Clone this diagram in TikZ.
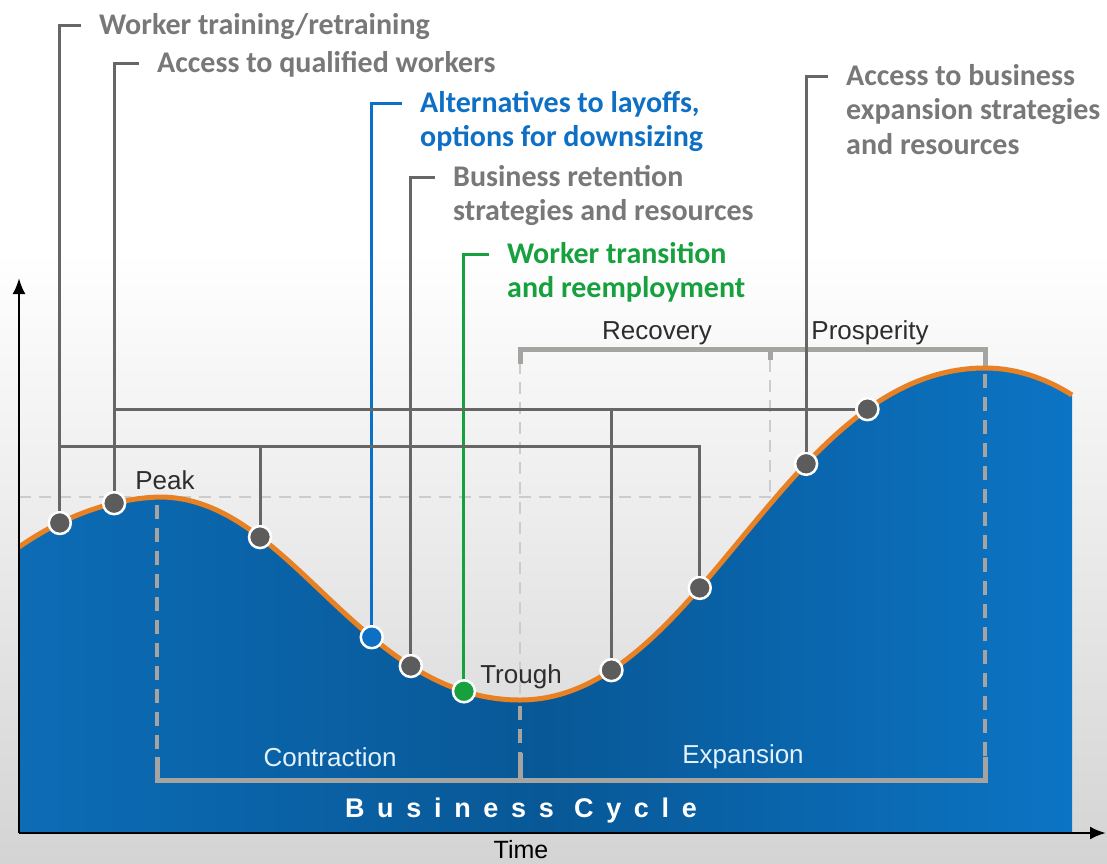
\documentclass[tikz,border=0pt]{standalone}
\usepackage{fontspec}
\setmainfont{Carlito}
\newfontfamily\chartfont{Liberation Sans}
\definecolor{conngray}{RGB}{102,102,102}
\definecolor{lblgray}{RGB}{120,120,120}
\definecolor{altblue}{RGB}{14,112,196}
\definecolor{trgreen}{RGB}{22,160,62}
\definecolor{dotgray}{RGB}{92,92,92}
\definecolor{brkgray}{RGB}{166,164,160}
\definecolor{guidelight}{RGB}{204,204,204}
\definecolor{cycleorange}{RGB}{232,128,36}
\definecolor{cycblueL}{RGB}{12,108,182}
\definecolor{cycblueM}{RGB}{8,88,150}
\definecolor{cycblueR}{RGB}{12,116,196}
\definecolor{bggray}{RGB}{212,212,212}
\definecolor{phasegray}{RGB}{45,45,45}
\definecolor{phasewhite}{RGB}{228,242,252}
\usetikzlibrary{
  arrows.meta,
  positioning,
}
\tikzset{
  conn/.style={draw=conngray, line width=3pt},
  lbl/.style={anchor=north west, inner sep=0pt, align=left, text=lblgray,
    font=\fontsize{30}{34.5}\selectfont\bfseries},
  dot/.style={circle, fill=dotgray, draw=white, line width=2.5pt, minimum size=22pt, inner sep=0pt},
  phase/.style={inner sep=0pt, text=phasegray, font=\chartfont\fontsize{26}{30}\selectfont},
  bracket/.style={draw=brkgray, line width=5pt},
  guide/.style={draw=brkgray, line width=3.5pt, dash pattern=on 14pt off 9pt},
  guidelt/.style={draw=guidelight, line width=2.5pt, dash pattern=on 12pt off 8pt},
  curve/.style={draw=cycleorange, line width=5pt},
  axis/.style={draw=black, line width=2.5pt, -{Latex[length=16pt,width=13pt]}},
}
\begin{document}
\begin{tikzpicture}[x=1pt, y=-1pt]
  \useasboundingbox (0,0) rectangle (1107,863);
  \fill[white] (0,0) rectangle (1107,863);
  \shade[top color=white, bottom color=bggray] (0,250) rectangle (1107,863);

  % turning points of the cycle
  \coordinate (start) at (19,547);
  \coordinate (pk) at (160,497);
  \coordinate (tr) at (520,700);
  \coordinate (mx) at (985,368);
  \coordinate (stop) at (1072,395);

  \draw[guidelt] (19,497) -- (776,497);

  \shade[left color=cycblueL, right color=cycblueR, middle color=cycblueM]
    (start) .. controls (65,515) and (115,498) .. (pk)
    .. controls (290,497) and (360,700) .. (tr)
    .. controls (700,700) and (785,368) .. (mx)
    .. controls (1020,368) and (1050,381) .. (stop)
    -- (1072,833) -- (19,833) -- cycle;

  % phase guides and brackets
  \draw[guide] (157,505) -- (157,757);
  \draw[guidelt] (520,362) -- (520,696);
  \draw[guide] (520,706) -- (520,757);
  \draw[guidelt] (770,360) -- (770,497);
  \draw[guide] (985,374) -- (985,757);
  \draw[bracket] (520,364) -- (520,349) -- (985,349) -- (985,370);
  \draw[bracket] (770,349) -- (770,360);
  \draw[bracket] (157,757) -- (157,780) -- (985,780) -- (985,757);
  \draw[bracket] (520,780) -- (520,753);

  \draw[curve] (start) .. controls (65,515) and (115,498) .. (pk)
      coordinate[pos=0.29] (k1) coordinate[pos=0.67] (k2)
    .. controls (290,497) and (360,700) .. (tr)
      coordinate[pos=0.285] (k3) coordinate[pos=0.63] (k4)
      coordinate[pos=0.74] (k5) coordinate[pos=0.875] (k6)
    .. controls (700,700) and (785,368) .. (mx)
      coordinate[pos=0.185] (k7) coordinate[pos=0.39] (k8)
      coordinate[pos=0.645] (k9) coordinate[pos=0.78] (k10)
    .. controls (1020,368) and (1050,381) .. (stop);

  \node[phase] (peak) at (165,480) {Peak};
  \node[phase] (trough) at (521,677) {Trough};
  \node[phase] (recov) at (657,333) {Recovery};
  \node[phase] (prosp) at (870,333) {Prosperity};
  \node[phase, text=phasewhite] (contr) at (330,757) {Contraction};
  \node[phase, text=phasewhite] (expan) at (743,757) {Expansion};
  \node[inner sep=0pt, text=white, font=\chartfont\fontsize{27}{30}\selectfont\bfseries\addfontfeature{LetterSpace=47}]
    (bcycle) at (521,811) {Business Cycle};
  \node[inner sep=0pt, font=\chartfont\fontsize{25}{28}\selectfont] (time) at (521,850) {Time};

  % labels
  \node[lbl] (tTrain) at (99,13) {Worker training/retraining};
  \node[lbl] (tQual) at (157,51) {Access to qualified workers};
  \node[lbl, text=altblue] (tAlt) at (420,91) {Alternatives to layoffs,\\options for downsizing};
  \node[lbl] (tRet) at (453,165) {Business retention\\strategies and resources};
  \node[lbl, text=trgreen] (tTrans) at (507,242) {Worker transition\\and reemployment};
  \node[lbl] (tExp) at (846,64) {Access to business\\expansion strategies\\and resources};

  % dots on the curve
  \node[dot] (d1) at (k1) {};
  \node[dot] (d2) at (k2) {};
  \node[dot] (d3) at (k3) {};
  \node[dot, fill=altblue] (d4) at (k4) {};
  \node[dot] (d5) at (k5) {};
  \node[dot, fill=trgreen] (d6) at (k6) {};
  \node[dot] (d7) at (k7) {};
  \node[dot] (d8) at (k8) {};
  \node[dot] (d9) at (k9) {};
  \node[dot] (d10) at (k10) {};

  % connectors
  \coordinate (busA) at (0,446);
  \draw[conn] ([shift={(-18,12)}]tTrain.north west) -| (d1);
  \draw[conn] ([shift={(-18,12)}]tQual.north west) -| (d2);
  \draw[conn, draw=altblue] ([shift={(-18,12)}]tAlt.north west) -| (d4);
  \draw[conn] ([shift={(-18,12)}]tRet.north west) -| (d5);
  \draw[conn, draw=trgreen] ([shift={(-18,12)}]tTrans.north west) -| (d6);
  \draw[conn] ([shift={(-18,12)}]tExp.north west) -| (d9);
  \draw[conn] (d1 |- busA) -| (d8);
  \draw[conn] (d3 |- busA) -- (d3);
  \draw[conn] (d2 |- d10) -- (d10);
  \draw[conn] (d7 |- d10) -- (d7);

  % axes
  \coordinate (origin) at (19,833);
  \coordinate (yTip) at (19,278);
  \coordinate (xTip) at (1106,833);
  \draw[axis] (origin) -- (yTip);
  \draw[axis] (origin) -- (xTip);
\end{tikzpicture}
\end{document}
